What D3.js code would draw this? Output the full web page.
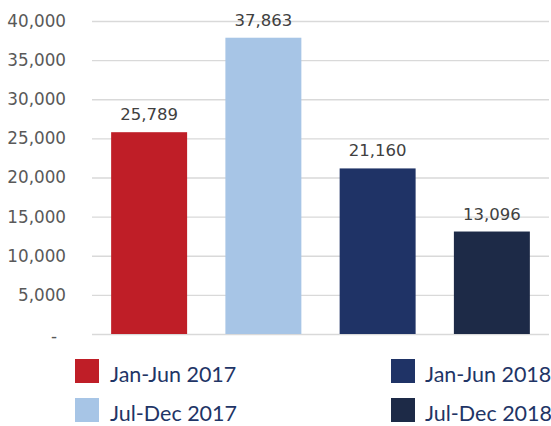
<!DOCTYPE html>
<html>
<head>
<meta charset="utf-8">
<script src="https://cdn.jsdelivr.net/npm/d3@7"></script>
<style>
  html, body { margin: 0; padding: 0; background: #fff; overflow: hidden; }
</style>
</head>
<body>
<div id="chart"></div>
<script>
// data
const periods = ["Jan-Jun 2017", "Jul-Dec 2017", "Jan-Jun 2018", "Jul-Dec 2018"];
const values = [25789, 37863, 21160, 13096];
const colors = ["#bf1e27", "#a7c5e6", "#1f3366", "#1d2a47"];
const yTicks = [0, 5000, 10000, 15000, 20000, 25000, 30000, 35000, 40000];

const width = 551, height = 426;
const margin = { top: 21, right: 2, bottom: 92, left: 92 };

const svg = d3.select("#chart").append("svg")
    .attr("width", width)
    .attr("height", height);

const x = d3.scaleBand()
    .domain(periods)
    .range([margin.left, width - margin.right])
    .paddingInner(0.335)
    .paddingOuter(0.1675);

const y = d3.scaleLinear()
    .domain([0, 40000])
    .range([height - margin.bottom, margin.top]);

// gridlines + tick labels
const yAxis = svg.append("g")
    .attr("transform", `translate(${margin.left},0)`)
    .call(d3.axisLeft(y)
        .tickValues(yTicks)
        .tickSize(-(width - margin.left - margin.right))
        .tickPadding(26)
        .tickFormat(d => d === 0 ? "-" : d3.format(",")(d)));

yAxis.select(".domain").remove();
yAxis.selectAll(".tick line").attr("stroke", "#d9d9d9").attr("stroke-width", 1.3);
yAxis.selectAll(".tick text")
    .attr("fill", "#595959")
    .style("font-family", "'DejaVu Sans', sans-serif")
    .style("font-size", "16.8px");

// accounting style dash for zero sits a bit left
yAxis.selectAll(".tick text").filter(d => d === 0).attr("dx", "-9").attr("dy", "0.45em");

// bars
svg.selectAll(".bar")
    .data(periods)
    .enter().append("rect")
    .attr("class", "bar")
    .attr("x", d => x(d))
    .attr("y", (d, i) => y(values[i]))
    .attr("width", x.bandwidth())
    .attr("height", (d, i) => y(0) - y(values[i]))
    .attr("fill", (d, i) => colors[i]);

// value labels
svg.selectAll(".val")
    .data(periods)
    .enter().append("text")
    .attr("class", "val")
    .attr("x", d => x(d) + x.bandwidth() / 2)
    .attr("y", (d, i) => y(values[i]) - 12)
    .attr("text-anchor", "middle")
    .attr("fill", "#404040")
    .style("font-family", "'DejaVu Sans', sans-serif")
    .style("font-size", "16.5px")
    .text((d, i) => d3.format(",")(values[i]));

// legend, two columns
const legendPos = [[75, 359], [75, 398], [391, 359], [391, 398]];
const legendOrder = [0, 1, 2, 3];
const legend = svg.append("g");

legend.selectAll("g")
    .data(legendOrder)
    .enter().append("g")
    .attr("transform", i => `translate(${legendPos[i][0]},${legendPos[i][1]})`)
    .each(function (i) {
        const g = d3.select(this);
        g.append("rect").attr("width", 24).attr("height", 24).attr("fill", colors[i]);
        g.append("text")
            .attr("x", i < 2 ? 35 : 34)
            .attr("y", 23)
            .attr("fill", "#1f3566")
            .style("font-family", "Lato, sans-serif")
            .style("font-size", "21.5px")
            .text(periods[i]);
    });
</script>
</body>
</html>
